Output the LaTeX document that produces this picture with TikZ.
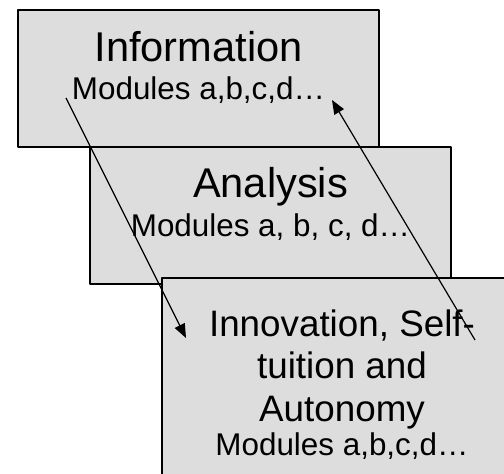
\documentclass[tikz,border=0pt]{standalone}
\usepackage{fontspec}
\setmainfont{Liberation Sans}
\usetikzlibrary{arrows.meta}
\definecolor{boxgray}{RGB}{221,221,221}
\begin{document}
\begin{tikzpicture}[>={Triangle[length=14bp,width=11bp]},line join=bevel,
  stagebox/.style={draw=black,line width=1.3bp,fill=boxgray,rectangle,inner sep=0pt,minimum width=361bp,minimum height=137bp},
  bigtext/.style={anchor=base,inner sep=0pt,font=\fontsize{41.6bp}{48bp}\selectfont},
  midtext/.style={anchor=base,inner sep=0pt,font=\fontsize{36.8bp}{42bp}\selectfont},
  modtext/.style={anchor=base,inner sep=0pt,font=\fontsize{31.4bp}{36bp}\selectfont},
  flow/.style={black,line width=1.2bp,->}]
%%
\useasboundingbox (0bp,0bp) rectangle (504bp,474bp);
\clip (0bp,0bp) rectangle (504bp,474bp);
%
\node (info) at (198.5bp,395.5bp) [stagebox] {};
  \node (analysis) at (270.5bp,258.5bp) [stagebox] {};
  \node (innov) at (342bp,83bp) [stagebox,minimum width=360bp,minimum height=226bp] {};
%
\node (info_t) at (198.5bp,412bp) [bigtext] {Information};
  \node (info_m) at (198.5bp,374bp) [modtext] {Modules a,b,c,d…};
  \node (analysis_t) at (270.5bp,276bp) [bigtext] {Analysis};
  \node (analysis_m) at (270.5bp,237bp) [modtext] {Modules a, b, c, d…};
  \node (innov_t1) at (342bp,137bp) [midtext] {Innovation, Self-};
  \node (innov_t2) at (342bp,95bp) [midtext] {tuition and};
  \node (innov_t3) at (342bp,52bp) [midtext] {Autonomy};
  \node (innov_m) at (342bp,19bp) [modtext] {Modules a,b,c,d…};
%
\coordinate (down_from) at (66bp,376bp);
  \coordinate (down_to) at (186bp,136bp);
  \coordinate (up_from) at (475bp,134bp);
  \coordinate (up_to) at (332bp,374bp);
  \draw [flow] (down_from) -- (down_to);
  \draw [flow] (up_from) -- (up_to);
%
\end{tikzpicture}
\end{document}
